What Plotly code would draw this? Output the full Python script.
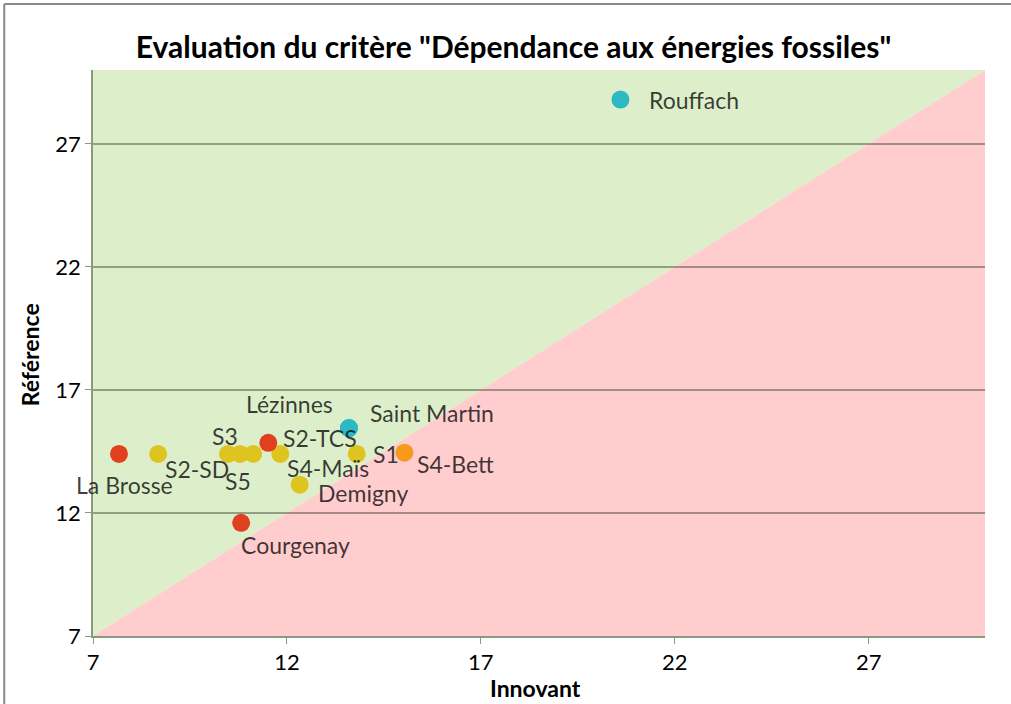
import plotly.graph_objects as go

names = ["Rouffach", "Saint Martin", "Lézinnes", "S2-SD", "S3", "", "S5", "S4-Maïs", "S1", "Demigny",
         "La Brosse", "S2-TCS", "Courgenay", "S4-Bett"]
innovant = [20.6, 13.6, 13.6, 8.68, 10.48, 11.13, 10.79, 11.83, 13.8, 12.33,
            7.67, 11.52, 10.82, 15.03]
reference = [28.8, 15.45, 15.45, 14.4, 14.4, 14.4, 14.4, 14.4, 14.4, 13.15,
             14.4, 14.85, 11.6, 14.45]
groups = ["teal", "teal", "teal", "yellow", "yellow", "yellow", "yellow", "yellow", "yellow", "yellow",
          "red", "red", "red", "orange"]
# label placement: (xanchor, xshift px, yshift px)
label_place = [("left", 27, 0), ("left", 19, 15), ("right", -14, 24), ("left", 5, -15),
               ("center", -3, 18), ("left", 0, 0), ("center", -2, -27), ("left", 5, -14),
               ("left", 14, 0), ("left", 16, -8), ("center", 6, -31), ("left", 13, 5),
               ("left", -2, -22), ("left", 11, -11)]
xticks = [7, 12, 17, 22, 27]
yticks = [7, 12, 17, 22, 27]
axis_min, axis_max = 7, 30

palette = {"teal": "#2CB9C4", "yellow": "#DDC41F", "red": "#E0401E", "orange": "#F7991A"}
FONT = "Lato"

fig = go.Figure()
for g in ["teal", "yellow", "red", "orange"]:
    idx = [i for i, gg in enumerate(groups) if gg == g]
    fig.add_trace(go.Scatter(
        x=[innovant[i] for i in idx], y=[reference[i] for i in idx],
        mode="markers", text=[names[i] for i in idx],
        marker=dict(size=18, color=palette[g]),
        showlegend=False, cliponaxis=False,
    ))

for name, xv, yv, (anc, dx, dy) in zip(names, innovant, reference, label_place):
    if not name:
        continue
    fig.add_annotation(x=xv, y=yv, xref="x", yref="y", text=name, showarrow=False,
                       xanchor=anc, yanchor="middle", xshift=dx, yshift=dy,
                       font=dict(family=FONT, size=23, color="rgba(0,0,0,0.75)"))

# Shaded regions above/below the diagonal
fig.add_shape(type="path", xref="x", yref="y", layer="below", line_width=0,
              fillcolor="#DDEFCA",
              path=f"M {axis_min},{axis_min} L {axis_min},{axis_max} L {axis_max},{axis_max} Z")
fig.add_shape(type="path", xref="x", yref="y", layer="below", line_width=0,
              fillcolor="#FFCDCD",
              path=f"M {axis_min},{axis_min} L {axis_max},{axis_min} L {axis_max},{axis_max} Z")

# Outer chart border (left and top)
fig.add_shape(type="line", xref="paper", yref="paper", x0=-0.0995, x1=1.1, y0=1.1166, y1=1.1166,
              line=dict(color="#888888", width=2))
fig.add_shape(type="line", xref="paper", yref="paper", x0=-0.0995, x1=-0.0995, y0=-0.2, y1=1.1166,
              line=dict(color="#888888", width=2))

# Axis titles
fig.add_annotation(xref="paper", yref="paper", x=0.496, y=-0.092, text="<b>Innovant</b>",
                   showarrow=False, xanchor="center", yanchor="middle",
                   font=dict(family=FONT, size=23, color="black"))
fig.add_annotation(xref="paper", yref="paper", x=-0.0706, y=0.496, text="<b>Référence</b>",
                   showarrow=False, xanchor="center", yanchor="middle", textangle=-90,
                   font=dict(family=FONT, size=23, color="black"))

fig.update_layout(
    width=1011, height=704,
    margin=dict(l=93, r=26, t=70, b=68),
    paper_bgcolor="white", plot_bgcolor="rgba(0,0,0,0)",
    title=dict(text='<b>Evaluation du critère "Dépendance aux énergies fossiles"</b>',
               x=0.508, xanchor="center", y=0.933, yanchor="middle",
               font=dict(family=FONT, size=30, color="black")),
    font=dict(family=FONT, size=22, color="black"),
)
fig.update_xaxes(range=[axis_min, axis_max], tickvals=xticks, showgrid=False, zeroline=False,
                 showline=True, linecolor="#8A9A80", linewidth=1.5,
                 ticks="outside", ticklen=6, tickcolor="#8A9A80",
                 tickfont=dict(family=FONT, size=22), automargin=False)
fig.update_yaxes(range=[axis_min, axis_max], tickvals=yticks, showgrid=True,
                 gridcolor="rgba(70,80,60,0.5)", gridwidth=1.5, zeroline=False,
                 showline=True, linecolor="#8A9A80", linewidth=1.5,
                 ticks="outside", ticklen=6, tickcolor="#8A9A80",
                 tickfont=dict(family=FONT, size=22), automargin=False)

fig.write_html("out.html", config={"displayModeBar": False},
               post_script="document.body.style.margin='0';document.body.style.overflow='hidden';")
